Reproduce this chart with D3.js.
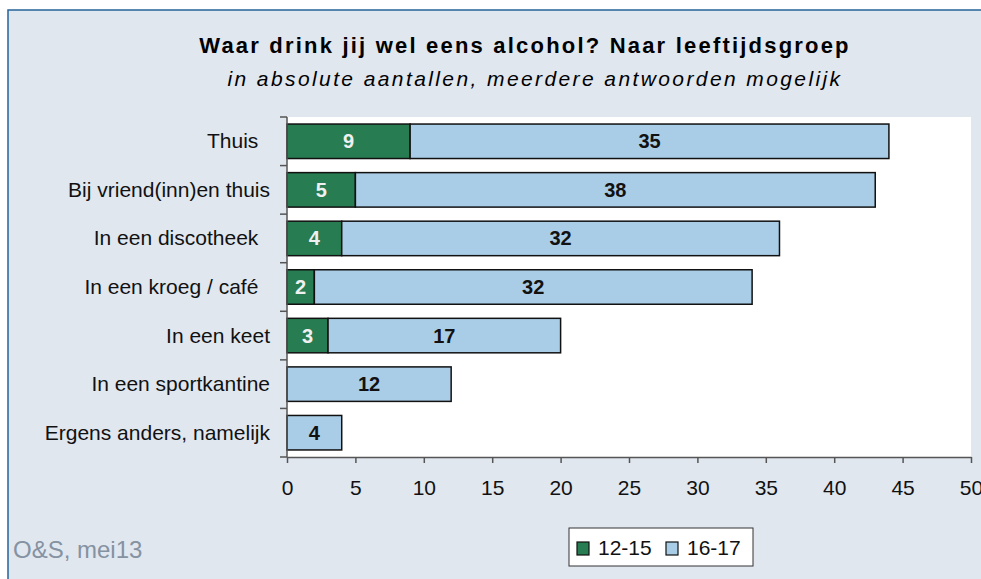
<!DOCTYPE html>
<html>
<head>
<meta charset="utf-8">
<script src="https://cdn.jsdelivr.net/npm/d3@7"></script>
<style>
  body { margin: 0; background: #fff; }
  text { font-family: "Liberation Sans", Arial, sans-serif; white-space: pre; }
</style>
</head>
<body>
<div id="chart"></div>
<script>
// Data
const categories = ["Thuis  ", "Bij vriend(inn)en thuis", "In een discotheek  ", "In een kroeg / café  ",
                    "In een keet", "In een sportkantine", "Ergens anders, namelijk"];
const seriesNames = ["12-15", "16-17"];
const young = [9, 5, 4, 2, 3, 0, 0];
const old = [35, 38, 32, 32, 17, 12, 4];
const xTicks = [0, 5, 10, 15, 20, 25, 30, 35, 40, 45, 50];

const colors = ["#277c51", "#aacde7"];

const width = 981, height = 579;

const svg = d3.select("#chart").append("svg")
    .attr("width", width)
    .attr("height", height);

// Outer frame (runs off to the right and bottom)
svg.append("rect")
    .attr("x", 8).attr("y", 10)
    .attr("width", 990).attr("height", 600)
    .attr("fill", "#e0e7ef")
    .attr("stroke", "#24649c")
    .attr("stroke-width", 1.5);

// Titles
svg.append("text")
    .attr("x", 525).attr("y", 53)
    .attr("text-anchor", "middle")
    .attr("font-size", 22).attr("font-weight", "bold")
    .attr("letter-spacing", 2.2)
    .text("Waar drink jij wel eens alcohol? Naar leeftijdsgroep");
svg.append("text")
    .attr("x", 535).attr("y", 86)
    .attr("text-anchor", "middle")
    .attr("font-size", 21).attr("font-style", "italic")
    .attr("letter-spacing", 2.4)
    .text("in absolute aantallen, meerdere antwoorden mogelijk");

// Plot area
const x0 = 287, x1 = 971, y0 = 117, y1 = 457;

const x = d3.scaleLinear().domain([0, 50]).range([x0, x1]);
const y = d3.scaleBand().domain(categories).range([y0, y1]).paddingInner(0.29).paddingOuter(0.145);

svg.append("rect")
    .attr("x", x0).attr("y", y0)
    .attr("width", x1 - x0).attr("height", y1 - y0)
    .attr("fill", "#fff");

// Stacked segments
const rows = categories.map((c, i) => ({cat: c, vals: [young[i], old[i]]}));
const segs = [];
rows.forEach(r => {
    let acc = 0;
    r.vals.forEach((v, s) => {
        if (v > 0) segs.push({cat: r.cat, s: s, start: acc, end: acc + v, v: v});
        acc += v;
    });
});

svg.selectAll(".seg")
    .data(segs)
    .enter().append("rect")
    .attr("class", "seg")
    .attr("x", d => x(d.start))
    .attr("y", d => y(d.cat))
    .attr("width", d => x(d.end) - x(d.start))
    .attr("height", y.bandwidth())
    .attr("fill", d => colors[d.s])
    .attr("stroke", "#111")
    .attr("stroke-width", 1.5);

svg.selectAll(".val")
    .data(segs)
    .enter().append("text")
    .attr("class", "val")
    .attr("x", d => (x(d.start) + x(d.end)) / 2)
    .attr("y", d => y(d.cat) + y.bandwidth() / 2 + 7)
    .attr("text-anchor", "middle")
    .attr("font-size", 20).attr("font-weight", "bold")
    .attr("fill", d => d.s === 0 ? "#f0f0f0" : "#111")
    .text(d => d.v);

// X axis
const xAxis = svg.append("g")
    .attr("transform", "translate(0," + y1 + ")")
    .call(d3.axisBottom(x).tickValues(xTicks).tickSize(6).tickPadding(17).tickSizeOuter(0));
xAxis.select(".domain").attr("stroke", "#555").attr("stroke-width", 1.5);
xAxis.selectAll(".tick line").attr("stroke", "#555").attr("stroke-width", 1.5);
xAxis.selectAll(".tick text")
    .attr("font-size", 21)
    .attr("fill", "#111")
    .attr("font-family", "'Liberation Sans', Arial, sans-serif");

// Y axis line and ticks at category boundaries
const bounds = d3.range(categories.length + 1).map(i => y0 + i * (y1 - y0) / categories.length);
svg.append("line")
    .attr("x1", x0).attr("x2", x0).attr("y1", y0).attr("y2", y1)
    .attr("stroke", "#555").attr("stroke-width", 1.5);
svg.selectAll(".ytick")
    .data(bounds)
    .enter().append("line")
    .attr("x1", x0 - 7).attr("x2", x0)
    .attr("y1", d => d).attr("y2", d => d)
    .attr("stroke", "#555").attr("stroke-width", 1.5);

svg.selectAll(".ylab")
    .data(categories)
    .enter().append("text")
    .attr("x", 270)
    .attr("y", d => y(d) + y.bandwidth() / 2 + 7)
    .attr("text-anchor", "end")
    .attr("font-size", 21)
    .attr("fill", "#111")
    .text(d => d);

// Legend
const leg = svg.append("g").attr("transform", "translate(569,528)");
leg.append("rect")
    .attr("width", 184).attr("height", 38)
    .attr("fill", "#fff").attr("stroke", "#333").attr("stroke-width", 1);
const legX = [8, 97];
seriesNames.forEach((n, i) => {
    leg.append("rect")
        .attr("x", legX[i]).attr("y", 14)
        .attr("width", 12).attr("height", 13)
        .attr("fill", colors[i]).attr("stroke", "#111").attr("stroke-width", 1.2);
    leg.append("text")
        .attr("x", legX[i] + 21).attr("y", 27)
        .attr("font-size", 21).attr("fill", "#111")
        .text(n);
});

// Source
svg.append("text")
    .attr("x", 13).attr("y", 558)
    .attr("font-size", 24).attr("fill", "#8592a2")
    .text("O&S, mei13");
</script>
</body>
</html>
